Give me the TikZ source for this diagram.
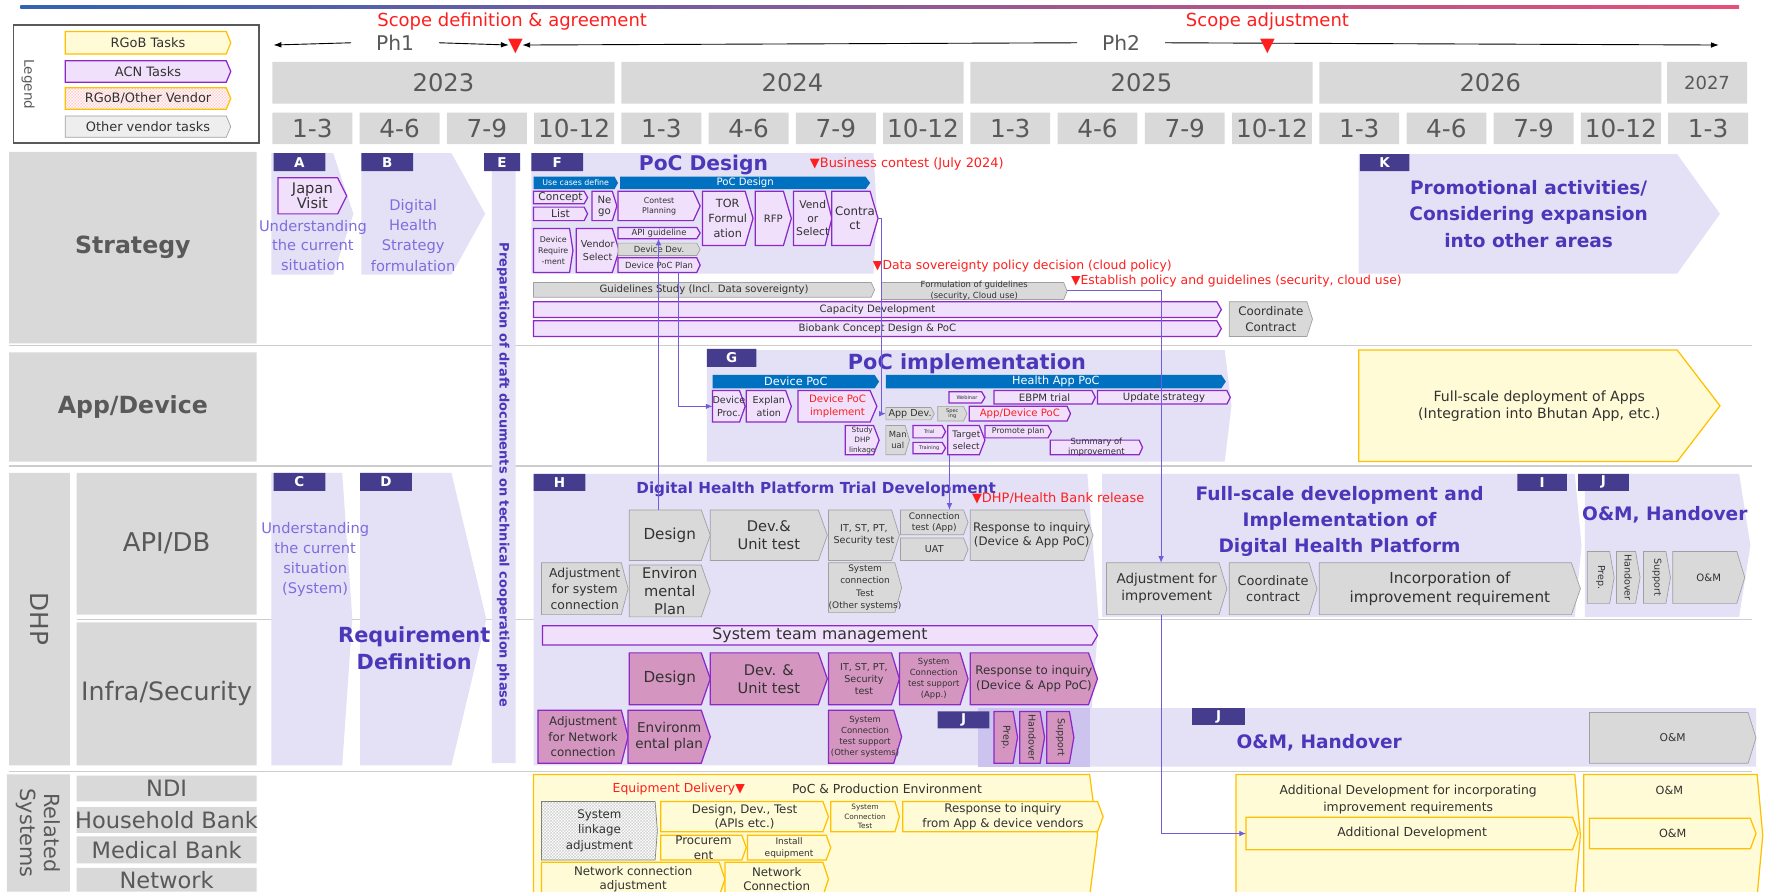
\documentclass[tikz,border=0pt]{standalone}
\usepackage{fontspec}
\setmainfont{DejaVu Sans}
\usetikzlibrary{arrows.meta,patterns}

\definecolor{lav}{RGB}{228,225,246}
\definecolor{lavdark}{RGB}{204,196,238}
\definecolor{tagc}{RGB}{70,60,142}
\definecolor{titlec}{RGB}{75,55,185}
\definecolor{softc}{RGB}{128,108,222}
\definecolor{acnf}{RGB}{240,224,252}
\definecolor{acnb}{RGB}{140,40,200}
\definecolor{infraf}{RGB}{212,150,192}
\definecolor{othf}{RGB}{217,217,217}
\definecolor{othlf}{RGB}{238,238,238}
\definecolor{othb}{RGB}{160,160,160}
\definecolor{yelf}{RGB}{255,251,214}
\definecolor{yelb}{RGB}{255,192,0}
\definecolor{bluec}{RGB}{0,112,192}
\definecolor{redc}{RGB}{255,30,30}
\definecolor{hdrf}{RGB}{217,217,217}
\definecolor{hdrc}{RGB}{89,89,89}
\definecolor{txtc}{RGB}{50,50,50}
\definecolor{sepc}{RGB}{205,205,205}
\definecolor{linkc}{RGB}{112,92,220}
\definecolor{topl}{RGB}{50,100,180}
\definecolor{topm}{RGB}{130,90,180}
\definecolor{topr}{RGB}{230,80,120}

% small checker used for mixed tasks
\pgfdeclarepatternformonly{finecheck}{\pgfpointorigin}{\pgfpoint{3pt}{3pt}}{\pgfpoint{3pt}{3pt}}{%
  \pgfpathrectangle{\pgfpointorigin}{\pgfpoint{1.5pt}{1.5pt}}%
  \pgfpathrectangle{\pgfpoint{1.5pt}{1.5pt}}{\pgfpoint{1.5pt}{1.5pt}}%
  \pgfusepath{fill}}

\tikzset{
  chevtip/.code={\def\tiplen{#1}},
  fs/.style 2 args={font=\fontsize{#1}{#2}\selectfont},
  fsb/.style 2 args={font=\bfseries\fontsize{#1}{#2}\selectfont},
  txt/.style={align=center, inner sep=0, text=txtc, fs={10}{12}},
  hdr/.style={fill=hdrf, chevtip=0},
  hdrtxt/.style={text=hdrc, fs={22}{26}},
  lav/.style={fill=lav},
  tag/.style={fill=tagc, chevtip=0},
  tagtxt/.style={text=white, fsb={12}{12}},
  acn/.style={fill=acnf, draw=acnb, line width=1.1},
  infra/.style={fill=infraf, draw=acnb, line width=1.1},
  oth/.style={fill=othf, draw=othb, line width=0.6},
  othl/.style={fill=othlf, draw=othb, line width=0.6},
  rgob/.style={fill=yelf, draw=yelb, line width=1.1},
  mixed/.style={preaction={fill=white}, pattern=finecheck, pattern color=pink!75, draw=yelb, line width=1.1},
  hatch/.style={preaction={fill=white}, pattern=finecheck, pattern color=gray!35, draw=gray, line width=0.6},
  bluebar/.style={fill=bluec},
  bluetxt/.style={text=white},
  legframe/.style={draw=hdrc, line width=1.4, fill=white, chevtip=0},
  sepline/.style={draw=sepc, line width=1},
  titletxt/.style={text=titlec, align=center},
  softtxt/.style={text=softc, align=center},
  redtxt/.style={text=redc, align=center},
  phline/.style={line width=0.8, -{Latex[length=7,width=5]}},
  link/.style={draw=linkc, line width=0.9, -{Latex[length=6,width=5]}}
}

% one task bar: [text options]{bar style}{name}{x1}{y1}{x2}{y2}{text}
\newcommand{\task}[8][]{%
  \pgfmathsetmacro\taskw{(#6)-(#4)}%
  \pgfmathsetmacro\taskh{(#7)-(#5)}%
  \pgfmathsetmacro\tiplen{min(0.22*\taskh,9)}%
  \node[inner sep=0, outer sep=0, minimum width=\taskw pt, minimum height=\taskh pt, anchor=north west] (#3) at (#4,#5) {};
  \path[#2] (#3.north west) -- ([xshift=-\tiplen]#3.north east) -- (#3.east)
    -- ([xshift=-\tiplen]#3.south east) -- (#3.south west) -- cycle;
  \node[txt, #1] at (#3.center) {#8};}

\begin{document}
\begin{tikzpicture}[x=1pt, y=-1pt]
  \useasboundingbox (0,0) rectangle (1568,792);
  \fill[white] (0,0) rectangle (1568,792);

  % top rule
  \shade[left color=topl, middle color=topm, right color=topr] (18,4.5) rectangle (1545,7.5);

  % legend
  \task{legframe}{legend}{12}{22}{230}{127}{}
  \node[rotate=-90, text=hdrc, fs={12}{14}] (legtitle) at (25,75) {Legend};
  \task[fs={11.5}{13}]{rgob, chevtip=4}{lgrgob}{58}{28}{205}{48}{RGoB Tasks}
  \task[fs={11.5}{13}]{acn, chevtip=4}{lgacn}{58}{54}{205}{73}{ACN Tasks}
  \task[fs={11.5}{13}]{mixed, chevtip=4}{lgmix}{58}{78}{205}{97}{RGoB/Other Vendor}
  \task[fs={11.5}{13}]{othl, chevtip=4}{lgoth}{58}{103}{205}{122}{Other vendor tasks}

  % phases and milestones
  \node[redtxt, fs={16}{18}] (scope1txt) at (455,19) {Scope definition \& agreement};
  \node[redtxt, fs={16}{18}] (scope2txt) at (1126,19) {Scope adjustment};
  \coordinate (ph1a) at (243,40);
  \coordinate (ph1b) at (452,40);
  \coordinate (ph2a) at (464,40);
  \coordinate (ph2b) at (1527,40);
  \node[text=hdrc, fs={18}{20}, inner xsep=22, fill=white] (ph1) at (351,38) {Ph1};
  \node[text=hdrc, fs={18}{20}, inner xsep=22, fill=white] (ph2) at (996,38) {Ph2};
  \draw[phline] (ph1.west) -- (ph1a);
  \draw[phline] (ph1.east) -- (ph1b);
  \draw[phline] (ph2.west) -- (ph2a);
  \draw[phline] (ph2.east) -- (ph2b);
  \node[redtxt, fs={17}{17}] (scope1) at (458,41) {▼};
  \node[redtxt, fs={17}{17}] (scope2) at (1126,41) {▼};

  % years and quarters
  \foreach \yr [count=\i from 0] in {2023,2024,2025,2026}
    {\task[hdrtxt, fs={21.5}{24}]{hdr}{y\yr}{242+310*\i}{55}{546+310*\i}{92}{\yr}}
  \task[hdrtxt, fs={16}{18}]{hdr}{y2027}{1481}{55}{1552}{92}{2027}
  \foreach \q [count=\i from 0] in {1-3,4-6,7-9,10-12,1-3,4-6,7-9,10-12,1-3,4-6,7-9,10-12,1-3,4-6,7-9,10-12,1-3}
    {\task[hdrtxt]{hdr}{q\i}{242+77.5*\i}{100}{313+77.5*\i}{128}{\q}}

  % row labels
  \task[hdrtxt, fsb={21}{24}]{hdr}{strat}{8}{135}{228}{305}{Strategy}
  \task[hdrtxt, fsb={21}{24}]{hdr}{app}{8}{313}{228}{410}{App/Device}
  \task[hdrtxt, fs={22}{24}, rotate=-90]{hdr}{dhp}{8}{420}{62}{680}{DHP}
  \task[hdrtxt, fs={23}{26}]{hdr}{api}{68}{420}{228}{546}{API/DB}
  \task[hdrtxt, fs={22.5}{26}]{hdr}{infra}{68}{553}{228}{680}{Infra/Security}
  \task[hdrtxt, fs={18.5}{21}, rotate=-90]{hdr}{rel}{6}{688}{62}{792}{Related\\Systems}
  \task[hdrtxt, fs={20}{22}]{hdr}{ndi}{68}{689}{228}{712}{NDI}
  \task[hdrtxt, fs={20}{22}]{hdr}{hhb}{68}{717}{228}{740}{Household Bank}
  \task[hdrtxt, fs={20}{22}]{hdr}{medb}{68}{743}{228}{767}{Medical Bank}
  \task[hdrtxt, fs={20}{22}]{hdr}{netw}{68}{771}{228}{792}{Network}
  \foreach \sy/\sx in {307/8, 414/8, 550/68, 685/8}
    \draw[sepline] (\sx,\sy) -- (1556,\sy);

  % phase columns
  \task{lav, chevtip=18}{colA}{241}{136}{314}{244}{}
  \task{lav, chevtip=30}{colB}{321}{136}{431}{244}{}
  \task{lav, chevtip=9}{colC}{241}{420}{313}{680}{}
  \task{lav, chevtip=31}{colD}{320}{420}{432}{680}{}
  \task{lav, chevtip=0}{colE}{437}{136}{458}{678}{}
  \task{lav, chevtip=3}{colF}{472}{136}{779}{243}{}
  \task{lav, chevtip=38}{colK}{1207}{137}{1528}{243}{}
  \task{lav, chevtip=6}{colG}{628}{311}{1094}{410}{}
  \task{lav, chevtip=10}{colH}{474}{421}{976}{680}{}
  \task{lav, chevtip=6}{colI}{979}{421}{1405}{548}{}
  \task{lav, chevtip=10}{colJ}{1408}{421}{1555}{548}{}
  \task{lav, chevtip=0}{colJb}{869}{629}{1560}{681}{}
  \fill[lavdark] (colJb.north west) rectangle (968,681);

  \task[tagtxt]{tag}{tagA}{243}{136}{289}{152}{A}
  \task[tagtxt]{tag}{tagB}{321}{136}{367}{152}{B}
  \task[tagtxt]{tag}{tagC}{243}{420}{289}{436}{C}
  \task[tagtxt]{tag}{tagD}{320}{420}{366}{436}{D}
  \task[tagtxt]{tag}{tagE}{430}{136}{462}{152}{E}
  \task[tagtxt]{tag}{tagF}{472}{136}{518}{152}{F}
  \task[tagtxt]{tag}{tagG}{628}{310}{672}{326}{G}
  \task[tagtxt]{tag}{tagH}{474}{421}{520}{436}{H}
  \task[tagtxt]{tag}{tagI}{1348}{421}{1392}{436}{I}
  \task[tagtxt]{tag}{tagJ}{1402}{421}{1447}{436}{J}
  \task[tagtxt]{tag}{tagJi}{833}{632}{879}{647}{J}
  \task[tagtxt]{tag}{tagJr}{1059}{629}{1106}{644}{J}
  \task[tagtxt]{tag}{tagK}{1208}{137}{1252}{152}{K}

  % strategy: current situation and strategy
  \task[fs={13}{14}]{acn, chevtip=8}{japan}{247}{158}{308}{190}{Japan\\Visit}
  \node[softtxt, fs={13}{17.5}] (undA) at (278,218) {Understanding\\the current\\situation};
  \node[softtxt, fs={13}{18}] (strB) at (367,209) {Digital\\Health\\Strategy\\formulation};
  \node[titletxt, fsb={11.5}{13}, rotate=-90] (prepE) at (447,422) {Preparation of draft documents on technical cooperation phase};

  % strategy: PoC design
  \node[titletxt, fsb={18}{20}] (poctitle) at (625,147) {PoC Design};
  \node[redtxt, fs={11.5}{13}, anchor=west] (bizc) at (716,146) {▼Business contest (July 2024)};
  \task[bluetxt, fs={7}{8}]{bluebar, chevtip=3}{usecase}{474}{157}{549}{168}{Use cases define}
  \task[bluetxt, fs={9}{10}]{bluebar, chevtip=4}{pocbar}{551}{157}{773}{168}{PoC Design}
  \task[fs={9.5}{10}]{acn, chevtip=3}{concept}{474}{170}{522}{181}{Concept}
  \task[fs={9.5}{10}]{acn, chevtip=3}{clist}{474}{184}{522}{196}{List}
  \task[fs={9}{10}]{acn, chevtip=4}{nego}{526}{170}{548}{196}{Ne\\go}
  \task[fs={7}{9}]{acn, chevtip=6}{contest}{549}{170}{622}{196}{Contest\\Planning}
  \task[fs={10}{13}]{acn, chevtip=7}{tor}{624}{170}{669}{218}{TOR\\Formul\\ation}
  \task[fs={9}{10}]{acn, chevtip=7}{rfp}{671}{170}{703}{218}{RFP}
  \task[fs={9.5}{12}]{acn, chevtip=6}{vendsel}{705}{170}{739}{218}{Vend\\or\\Select}
  \task[fs={10.5}{13}]{acn, chevtip=7}{contract}{739}{170}{780}{218}{Contra\\ct}
  \task[fs={7}{9.5}]{acn, chevtip=3}{devreq}{474}{203}{509}{242}{Device\\Require\\-ment}
  \task[fs={8.5}{11}]{acn, chevtip=6}{vendsel2}{512}{203}{550}{242}{Vendor\\Select}
  \task[fs={7.5}{8}]{acn, chevtip=3}{apiguide}{549}{202}{622}{212}{API guideline}
  \task[fs={7.5}{8}]{oth, chevtip=3}{devdev}{549}{216}{622}{227}{Device Dev.}
  \task[fs={7.5}{8}]{acn, chevtip=3}{devpocplan}{549}{229}{622}{242}{Device PoC Plan}

  % strategy: guidelines and capacity
  \task[fs={9}{10}]{oth, chevtip=3}{guide}{474}{251}{777}{264}{Guidelines Study (Incl. Data sovereignty)}
  \task[fs={7.5}{10}]{oth, chevtip=3}{formul}{783}{251}{948}{266}{Formulation of guidelines\\(security, Cloud use)}
  \node[redtxt, fs={11}{12}, anchor=west] (datasov) at (772,236) {▼Data sovereignty policy decision (cloud policy)};
  \node[redtxt, fs={11}{12}, anchor=west] (estpol) at (948,250) {▼Establish policy and guidelines (security, cloud use)};
  \task[fs={9}{10}]{acn, chevtip=4}{capdev}{474}{268}{1085}{282}{Capacity Development}
  \task[fs={9}{10}]{acn, chevtip=4}{biobank}{474}{285}{1085}{299}{Biobank Concept Design \& PoC}
  \task[fs={10.5}{14}]{oth, chevtip=5}{coordc}{1092}{268}{1166}{299}{Coordinate\\Contract}

  % strategy: promotion
  \node[titletxt, fsb={16.5}{23.5}] (promo) at (1358,190) {Promotional activities/\\Considering expansion\\into other areas};

  % app/device: PoC implementation
  \node[titletxt, fsb={18.5}{20}] (impltitle) at (859,323) {PoC implementation};
  \task[bluetxt, fs={10}{11}]{bluebar, chevtip=4}{devpoc}{633}{333}{781}{345}{Device PoC}
  \task[bluetxt, fs={10}{11}]{bluebar, chevtip=4}{apppoc}{787}{333}{1089}{345}{Health App PoC}
  \task[fs={8.5}{11}]{acn, chevtip=5}{devproc}{633}{347}{662}{375}{Device\\Proc.}
  \task[fs={8.5}{11}]{acn, chevtip=5}{explan}{663}{347}{703}{375}{Explan\\ation}
  \task[redtxt, fs={9}{11.5}]{acn, chevtip=6}{devimpl}{709}{347}{779}{375}{Device PoC\\implement}
  \task[fs={6.5}{9}]{acn, chevtip=5}{dhplink}{751}{378}{781}{404}{Study\\DHP\\linkage}
  \task[fs={8.5}{9}]{oth, chevtip=3}{appdev}{787}{362}{830}{373}{App Dev.}
  \task[fs={4.5}{5}]{oth, chevtip=3}{spec}{833}{361}{859}{374}{Spec\\ing}
  \task[redtxt, fs={9}{10}]{acn, chevtip=3}{appdevpoc}{861}{361}{951}{374}{App/Device PoC}
  \task[fs={4.5}{5}]{acn, chevtip=3}{webinar}{843}{348}{875}{358}{Webinar}
  \task[fs={9}{10}]{acn, chevtip=3}{ebpm}{883}{347}{973}{359}{EBPM trial}
  \task[fs={9}{10}]{acn, chevtip=3}{upstrat}{975}{347}{1093}{359}{Update strategy}
  \task[fs={7.5}{10}]{oth, chevtip=4}{manual}{787}{378}{808}{404}{Man\\ual}
  \task[fs={4.5}{5}]{acn, chevtip=3}{trial}{811}{378}{840}{389}{Trial}
  \task[fs={4.5}{5}]{acn, chevtip=3}{training}{811}{393}{840}{403}{Training}
  \task[fs={8}{10.5}]{acn, chevtip=5}{target}{842}{378}{875}{404}{Target\\select}
  \task[fs={7}{8}]{acn, chevtip=3}{promplan}{875}{378}{934}{389}{Promote plan}
  \task[fs={7.5}{9}]{acn, chevtip=3}{summary}{933}{391}{1015}{404}{Summary of\\improvement}
  \task[fs={12.5}{15}]{rgob, chevtip=38}{deploy}{1207}{311}{1528}{410}{Full-scale deployment of Apps\\(Integration into Bhutan App, etc.)}

  % DHP: current situation and requirements
  \node[softtxt, fs={13}{17.7}] (undC) at (280,497) {Understanding\\the current\\situation\\(System)};
  \node[titletxt, fsb={18.5}{24}] (reqD) at (368,576) {Requirement\\Definition};

  % DHP API/DB: trial development
  \node[titletxt, fsb={13.5}{15}] (htitle) at (725,435) {Digital Health Platform Trial Development};
  \node[redtxt, fs={11.5}{13}, anchor=west] (dhprel) at (860,443) {▼DHP/Health Bank release};
  \task[fs={13.5}{15}]{oth, chevtip=8}{dsgnapi}{559}{453}{631}{498}{Design}
  \task[fs={13}{16}]{oth, chevtip=8}{devapi}{631}{453}{735}{498}{Dev.\&\\Unit test}
  \task[fs={8.5}{11}]{oth, chevtip=7}{itapi}{736}{453}{799}{498}{IT, ST, PT,\\Security test}
  \task[fs={8}{10}]{oth, chevtip=4}{conntest}{800}{453}{860}{475}{Connection\\test (App)}
  \task[fs={8.5}{10}]{oth, chevtip=4}{uat}{800}{478}{860}{498}{UAT}
  \task[fs={10.5}{13}]{oth, chevtip=8}{respapi}{862}{453}{971}{498}{Response to inquiry\\(Device \& App PoC)}
  \task[fs={11}{14}]{oth, chevtip=6}{adjsys}{481}{500}{558}{546}{Adjustment\\for system\\connection}
  \task[fs={13}{16}]{oth, chevtip=8}{envapi}{559}{502}{631}{548}{Environ\\mental\\Plan}
  \task[fs={8}{11}]{oth, chevtip=6}{sysother}{736}{500}{801}{544}{System\\connection\\Test\\(Other systems)}

  % DHP API/DB: full-scale development and O&M
  \node[titletxt, fsb={16.5}{23}] (ititle) at (1190,463) {Full-scale development and\\Implementation of\\Digital Health Platform};
  \task[fs={12}{15}]{oth, chevtip=7}{adjimpr}{983}{500}{1090}{546}{Adjustment for\\improvement}
  \task[fs={11.5}{15}]{oth, chevtip=7}{coordapi}{1092}{500}{1170}{546}{Coordinate\\contract}
  \task[fs={13.5}{17}]{oth, chevtip=8}{incorp}{1172}{500}{1404}{546}{Incorporation of\\improvement requirement}
  \node[titletxt, fsb={16.5}{18}] (jtitle) at (1479,457) {O\&M, Handover};
  \task[fs={8.5}{10}, rotate=-90]{oth, chevtip=4}{prepapi}{1410}{490}{1434}{536}{Prep.}
  \task[fs={8.5}{10}, rotate=-90]{oth, chevtip=4}{handapi}{1436}{490}{1457}{536}{Handover}
  \task[fs={8.5}{10}, rotate=-90]{oth, chevtip=4}{suppapi}{1460}{490}{1484}{536}{Support}
  \task[fs={9}{10}]{oth, chevtip=7}{omapi}{1486}{490}{1550}{536}{O\&M}

  % DHP infra/security
  \task[fs={14}{16}]{acn, chevtip=5}{sysmgmt}{482}{556}{975}{573}{System team management}
  \task[fs={13.5}{15}]{infra, chevtip=8}{dsgninf}{559}{580}{631}{626}{Design}
  \task[fs={13}{16}]{infra, chevtip=8}{devinf}{631}{580}{735}{626}{Dev. \&\\Unit test}
  \task[fs={8.5}{10.5}]{infra, chevtip=7}{itinf}{736}{580}{799}{626}{IT, ST, PT,\\Security\\test}
  \task[fs={7.5}{10}]{infra, chevtip=7}{sysappinf}{799}{580}{860}{626}{System\\Connection\\test support\\(App.)}
  \task[fs={10.5}{13}]{infra, chevtip=8}{respinf}{862}{580}{975}{626}{Response to inquiry\\(Device \& App PoC)}
  \task[fs={10.5}{13.5}]{infra, chevtip=6}{adjnet}{478}{631}{558}{678}{Adjustment\\for Network\\connection}
  \task[fs={12}{15}]{infra, chevtip=8}{envinf}{558}{631}{631}{678}{Environm\\ental plan}
  \task[fs={7.5}{10}]{infra, chevtip=7}{sysothinf}{736}{631}{801}{678}{System\\Connection\\test support\\(Other systems)}
  \task[fs={8.5}{10}, rotate=-90]{infra, chevtip=4}{prepinf}{883}{632}{904}{678}{Prep.}
  \task[fs={8.5}{10}, rotate=-90]{infra, chevtip=4}{handinf}{906}{632}{928}{678}{Handover}
  \task[fs={8.5}{10}, rotate=-90]{infra, chevtip=4}{suppinf}{930}{632}{954}{678}{Support}
  \node[titletxt, fsb={16.5}{18}] (jinftitle) at (1172,660) {O\&M, Handover};
  \task[fs={9.5}{10}]{oth, chevtip=7}{ominf}{1412}{633}{1560}{678}{O\&M}

  % related systems
  \task{rgob, chevtip=7}{pocenv}{474}{688}{975}{796}{}
  \node[redtxt, fs={11}{12}] (equip) at (603,701) {Equipment Delivery▼};
  \node[txt, fs={11}{12}] (pocenvtxt) at (788,701) {PoC \& Production Environment};
  \task[fs={10.5}{14}]{hatch, chevtip=2}{syslink}{481}{712}{584}{764}{System\\linkage\\adjustment}
  \task[fs={10.5}{13}]{rgob, chevtip=5}{ddt}{587}{712}{736}{739}{Design, Dev., Test\\(APIs etc.)}
  \task[fs={6.5}{8.5}]{rgob, chevtip=4}{sysconn}{738}{712}{799}{739}{System\\Connection\\Test}
  \task[fs={10.5}{13}]{rgob, chevtip=5}{resprel}{802}{712}{980}{739}{Response to inquiry\\from App \& device vendors}
  \task[fs={10.5}{13}]{rgob, chevtip=4}{procure}{587}{742}{663}{764}{Procurem\\ent}
  \task[fs={8}{10.5}]{rgob, chevtip=4}{install}{664}{742}{738}{764}{Install\\equipment}
  \task[fs={10.5}{13}]{rgob, chevtip=5}{netadj}{481}{766}{644}{796}{Network connection\\adjustment}
  \task[fs={10.5}{13}]{rgob, chevtip=5}{netconn}{644}{766}{736}{796}{Network\\Connection}
  \task{rgob, chevtip=5}{addpanel}{1098}{688}{1404}{796}{}
  \node[txt, fs={11}{15}] (addtxt) at (1251,710) {Additional Development for incorporating\\improvement requirements};
  \task[fs={11}{12}]{rgob, chevtip=5}{adddev}{1107}{726}{1402}{755}{Additional Development}
  \task{rgob, chevtip=5}{ompanel}{1407}{688}{1566}{796}{}
  \node[txt, fs={10}{11}] (omtxt) at (1483,702) {O\&M};
  \task[fs={10}{11}]{rgob, chevtip=5}{omrel}{1412}{727}{1560}{754}{O\&M}

  % links between tasks
  \coordinate (l1a) at ([xshift=-10]dsgnapi.north);
  \draw[link] (l1a) -- (l1a |- apiguide.south);
  \coordinate (l2a) at ([xshift=17]devpocplan.south);
  \draw[link] (l2a) |- (devproc.west);
  \draw[link] (contract.east) -- ++(3,0) |- (appdev.west);
  \coordinate (l4a) at ([xshift=-15]target.south);
  \draw[link] (l4a) -- (l4a |- conntest.north);
  \draw[link] (formul.east) -| ([xshift=-5]adjimpr.north);
  \draw[link] ([xshift=-5]adjimpr.south) |- (adddev.west);
\end{tikzpicture}
\end{document}
